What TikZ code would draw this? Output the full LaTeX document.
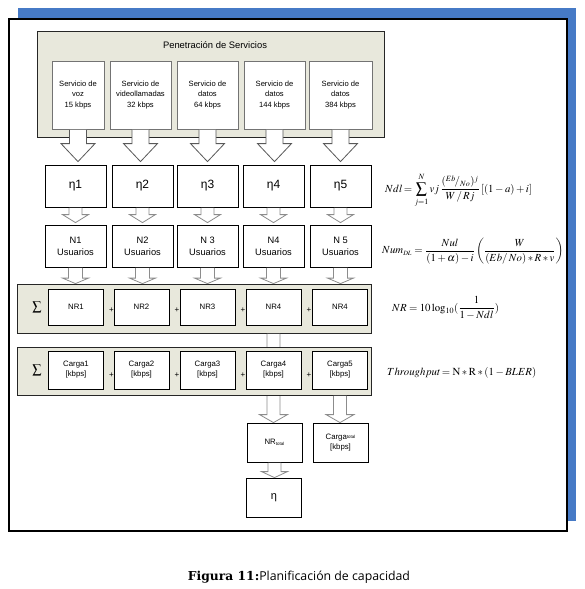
\documentclass[tikz,border=0pt]{standalone}
\usepackage{amsmath}
\usepackage{mathptmx}
\usepackage{fontspec}
\setmainfont{Liberation Serif}
\newfontfamily\arial{Liberation Sans}
\newfontfamily\capsans{Open Sans}
\newfontfamily\capserif{DejaVu Serif}
\usetikzlibrary{calc}
\definecolor{groupfill}{RGB}{232,232,220}
\definecolor{shadowblue}{RGB}{70,122,198}
\tikzset{
  grp/.style={draw=black!85, fill=groupfill, line width=0.8pt},
  svc/.style={draw=black!55, fill=white, line width=0.8pt, minimum height=68pt, inner sep=0pt,
    font=\arial\fontsize{7.6}{10.5}\selectfont, align=center},
  bx/.style={draw=black, fill=white, line width=0.8pt, minimum width=61pt, minimum height=42pt,
    inner sep=0pt, align=center},
  etabox/.style={bx, font=\arial\fontsize{12}{14}\selectfont},
  nbox/.style={bx, font=\arial\fontsize{9.3}{12}\selectfont},
  sbx/.style={draw=black, fill=white, line width=0.8pt, minimum width=55pt, inner sep=0pt,
    align=center, font=\arial\fontsize{7.8}{10}\selectfont},
  bigarr/.style={draw=black!65, fill=white, line width=0.8pt},
  smarr/.style={draw=black!45, fill=white, line width=0.8pt},
  plus/.style={font=\arial\fontsize{8}{8}\selectfont, inner sep=0pt},
  sigma/.style={font=\fontsize{13}{13}\selectfont, inner sep=0pt},
  eq/.style={anchor=west, inner sep=0pt, font=\fontsize{10.8}{13}\selectfont},
}
% style, from, to, stemhalf, headhalf, headlen, gap
\newcommand\blockarr[7]{%
  \draw[#1] let \p1=(#2), \p2=(#3) in
    (\x1-#4pt,\y1-0.5pt) -- (\x1-#4pt,\y2+#6pt+#7pt) -- (\x1-#5pt,\y2+#6pt+#7pt)
    -- (\x1,\y2+#7pt) -- (\x1+#5pt,\y2+#6pt+#7pt) -- (\x1+#4pt,\y2+#6pt+#7pt)
    -- (\x1+#4pt,\y1-0.5pt);}
\begin{document}
\begin{tikzpicture}[x=1pt,y=-1pt]
\useasboundingbox (0,0) rectangle (585,589);
% frame with blue shadow
\fill[shadowblue] (18,8) rectangle (576,521);
\draw[fill=white, line width=1.1pt] (9,19) rectangle (567,531);

% services group
\node[grp, minimum width=347pt, minimum height=106pt, inner sep=0pt] (pg) at (210.5,84) {};
\node[font=\arial\fontsize{9.4}{11}\selectfont] (pgt) at (215,45) {Penetración de Servicios};
\node[svc, minimum width=52pt] (s1) at (78,95) {Servicio de\\voz\\15 kbps};
\node[svc, minimum width=61pt] (s2) at (140.5,95) {Servicio de\\videollamadas\\32 kbps};
\node[svc, minimum width=61pt] (s3) at (207.5,95) {Servicio de\\datos\\64 kbps};
\node[svc, minimum width=61pt] (s4) at (274.5,95) {Servicio de\\datos\\144 kbps};
\node[svc, minimum width=63pt] (s5) at (340.5,95) {Servicio de\\datos\\384 kbps};

% eta row
\node[etabox] (e1) at (75.5,186) {η1};
\node[etabox] (e2) at (142.5,186) {η2};
\node[etabox] (e3) at (207.5,186) {η3};
\node[etabox] (e4) at (273.5,186) {η4};
\node[etabox] (e5) at (340.5,186) {η5};
\foreach \i in {1,...,5} {\blockarr{bigarr}{s\i.south}{e\i.north}{8.5}{17}{18}{3}}

% N row
\node[nbox] (n1) at (75.5,246) {N1\\Usuarios};
\node[nbox] (n2) at (142.5,246) {N2\\Usuarios};
\node[nbox] (n3) at (207.5,246) {N 3\\Usuarios};
\node[nbox] (n4) at (273.5,246) {N4\\Usuarios};
\node[nbox] (n5) at (340.5,246) {N 5\\Usuarios};
\foreach \i in {1,...,5} {\blockarr{smarr}{e\i.south}{n\i.north}{6.5}{13}{8}{2}}

% NR group
\node[grp, minimum width=354pt, minimum height=49pt, inner sep=0pt] (nrg) at (194,308.5) {};
\foreach \i in {1,...,5} {\blockarr{smarr}{n\i.south}{nrg.north}{7}{13}{5.5}{0}}
\node[sigma] (sg1) at (37,307) {$\sum$};
\node[sbx, minimum height=36pt] (r1) at (76,307) {NR1};
\node[sbx, minimum height=36pt] (r2) at (141.5,307) {NR2};
\node[sbx, minimum height=36pt] (r3) at (207.5,307) {NR3};
\node[sbx, minimum height=36pt] (r4) at (273.5,307) {NR4};
\node[sbx, minimum height=36pt] (r5) at (340,307) {NR4};
\node[plus] (p1) at (111.5,310) {+};
\node[plus] (p2) at (177,310) {+};
\node[plus] (p3) at (243,310) {+};
\node[plus] (p4) at (309,310) {+};

% NR total + arrow (behind Carga group)
\node[sbx, minimum height=39pt] (nrt) at (274.5,442.5) {NR\raisebox{-0.5pt}{\fontsize{4.5}{5}\selectfont total}};
\blockarr{smarr}{r4.south |- nrg.south}{nrt.north}{6.5}{14}{8}{0}

% Carga group
\node[grp, minimum width=354pt, minimum height=48pt, inner sep=0pt] (cgg) at (194,371) {};
\node[sigma] (sg2) at (37,370) {$\sum$};
\node[sbx, minimum height=38pt] (c1) at (76,370) {Carga1\\{}[kbps]};
\node[sbx, minimum height=38pt] (c2) at (141.5,370) {Carga2\\{}[kbps]};
\node[sbx, minimum height=38pt] (c3) at (207.5,370) {Carga3\\{}[kbps]};
\node[sbx, minimum height=38pt] (c4) at (273.5,370) {Carga4\\{}[kbps]};
\node[sbx, minimum height=38pt] (c5) at (340,370) {Carga5\\{}[kbps]};
\node[plus] (q1) at (111.5,375) {+};
\node[plus] (q2) at (177,375) {+};
\node[plus] (q3) at (243,375) {+};
\node[plus] (q4) at (309,375) {+};

\node[sbx, minimum height=39pt] (ct) at (340.5,442.5) {Carga\raisebox{0.5pt}{\fontsize{4.5}{5}\selectfont total}\\{}[kbps]};
\blockarr{smarr}{c5.south |- cgg.south}{ct.north}{6.5}{14}{8}{0}

% final eta
\node[sbx, minimum height=39pt, font=\arial\fontsize{11}{13}\selectfont] (ef) at (274,497.5) {η};
\blockarr{smarr}{nrt.south}{ef.north}{6.5}{13}{6}{0}

% equations
\node[eq] (eq1) at (385,190) {$Ndl\!=\displaystyle\mathop{\sum}\limits^{\raisebox{1.5pt}{$\scriptstyle N$}}_{\raisebox{-1.5pt}{$\scriptstyle j=1$}} vj\,\frac{(^{Eb}\!/_{No})^{j}}{W\,/\,Rj}\,[(1-a)+i]$};
\node[eq] (eq2) at (382,251) {$Num_{\scriptscriptstyle DL}=\dfrac{Nul}{(1+\alpha)-i}\left(\dfrac{W}{(Eb/\,No)*R*v}\right)$};
\node[eq] (eq3) at (392,308) {$NR=10\log_{10}(\dfrac{1}{1-Ndl})$};
\node[eq] (eq4) at (387,373) {$Throughput\!=\mathrm{N}*\mathrm{R}*(1-BLER)$};

% caption
\node[inner sep=0pt] (cap) at (299,577) {{\capserif\bfseries\fontsize{12.3}{14}\selectfont Figura 11:}{\capsans\fontsize{12.3}{14}\selectfont Planificación de capacidad}};
\end{tikzpicture}
\end{document}
